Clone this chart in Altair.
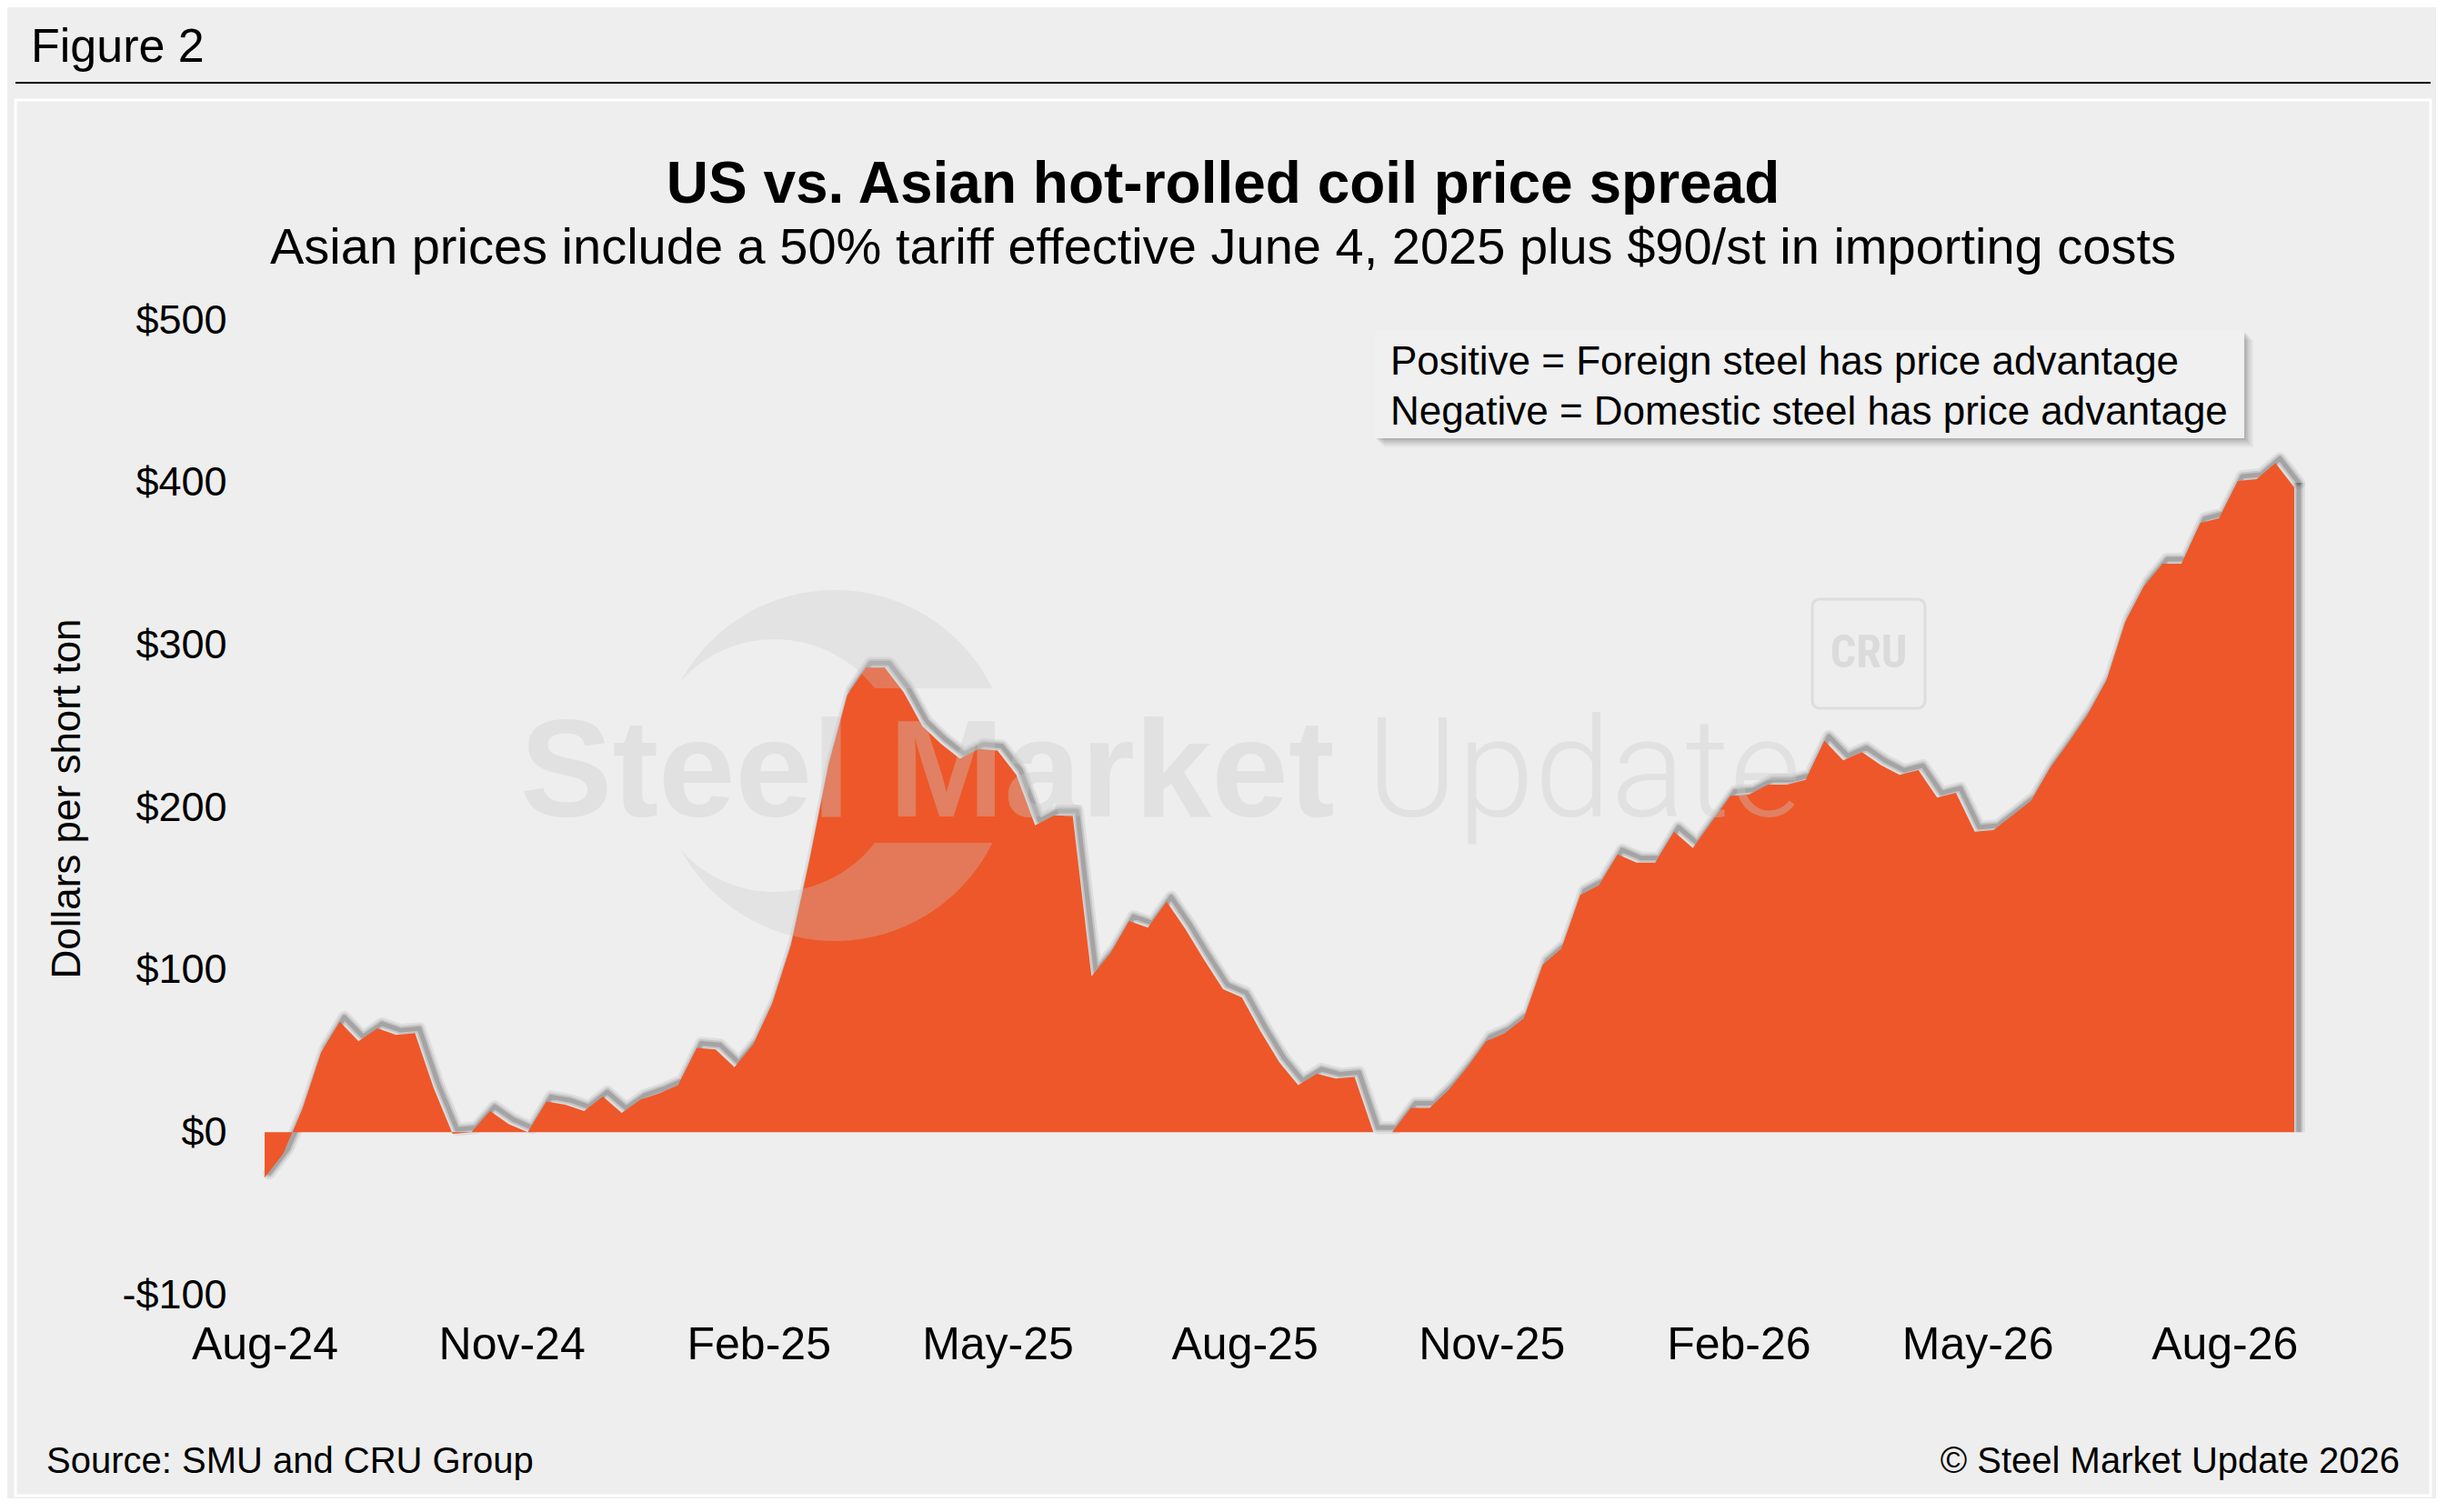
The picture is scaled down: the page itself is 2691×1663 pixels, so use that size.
import altair as alt
import pandas as pd

# ---------------- data ----------------
start_date = "2024-08-01"
spread = [-28, -13, 14, 49, 68, 56, 64, 60, 61, 27,
          -1, 0, 13, 5, 0, 19, 17, 13, 22, 12,
          20, 24, 29, 52, 51, 40, 54, 79, 115, 168,
          226, 269, 286, 286, 271, 250, 239, 230, 236, 235,
          220, 189, 195, 195, 96, 110, 130, 126, 142, 125,
          106, 88, 83, 62, 43, 29, 36, 33, 34, 0,
          0, 15, 15, 26, 40, 56, 61, 70, 103, 113,
          146, 152, 171, 166, 166, 185, 175, 191, 207, 208,
          214, 214, 217, 241, 229, 234, 226, 220, 223, 206,
          209, 185, 186, 195, 204, 224, 240, 257, 278, 314,
          336, 350, 350, 375, 378, 401, 402, 412, 397]
x_tick_months = [(2024, 8), (2024, 11), (2025, 2), (2025, 5), (2025, 8),
                 (2025, 11), (2026, 2), (2026, 5), (2026, 8)]
y_ticks = [-100, 0, 100, 200, 300, 400, 500]

title_text = "US vs. Asian hot-rolled coil price spread"
subtitle_text = "Asian prices include a 50% tariff effective June 4, 2025 plus $90/st in importing costs"
legend_lines = ["Positive = Foreign steel has price advantage",
                "Negative = Domestic steel has price advantage"]

dates = pd.date_range(start_date, periods=len(spread), freq="7D")
df = pd.DataFrame({
    "date": dates.strftime("%Y-%m-%dT00:00:00"),
    "value": spread,
})
# shadow copy (slightly up/right, like the drop shadow of the original)
df["date_s"] = (dates + pd.Timedelta(hours=40)).strftime("%Y-%m-%dT%H:00:00")
df["value_s"] = df["value"] + 2.8

FONT = "Liberation Sans, Helvetica, Arial, sans-serif"
AREA = "#EE5729"
W, H = 2232, 1072

def dt(ts):
    return alt.DateTime(year=int(ts.year), month=int(ts.month), date=int(ts.day))

x_scale = alt.Scale(domain=[dt(dates[0]), dt(dates[-1])])
y_scale = alt.Scale(domain=[y_ticks[0], y_ticks[-1]], nice=False)

x_axis = alt.Axis(values=[alt.DateTime(year=yy, month=mm, date=1)
                          for yy, mm in x_tick_months],
                  format="%b-%y", labelFontSize=50, labelPadding=30,
                  labelFlush=False, labelOverlap=False, title=None, zindex=1)
y_axis = alt.Axis(values=y_ticks,
                  labelExpr="datum.value < 0 ? '-$' + abs(datum.value) : '$' + datum.value",
                  labelFontSize=45, labelPadding=42,
                  title="Dollars per short ton", titleFontSize=44,
                  titleFontWeight="normal", titleAngle=270,
                  titleX=-217, titleY=526, titleAlign="center",
                  titleBaseline="middle", zindex=1)

one = pd.DataFrame({"k": [0]})
b = alt.Chart(one)

def txt(text, x, y, size, align="left", weight="normal", color="black",
        font=FONT, baseline="alphabetic", opacity=1.0):
    return b.mark_text(text=text, align=align, baseline=baseline, fontSize=size,
                       fontWeight=weight, font=font, color=color,
                       opacity=opacity).encode(x=alt.value(x), y=alt.value(y))

# panel frame (white border only, background comes from the chart background)
panel = b.mark_rect(fillOpacity=0, stroke="#ffffff", strokeWidth=3).encode(
    x=alt.value(-274), x2=alt.value(2382), y=alt.value(-242), y2=alt.value(1293))
header_rule = b.mark_rule(color="black", strokeWidth=2).encode(
    x=alt.value(-274), x2=alt.value(2382), y=alt.value(-261))
fig_label = txt("Figure 2", -257, -284, 52)
title = txt(title_text, 1054, -129, 64, align="center", weight="bold")
subtitle = txt(subtitle_text, 1054, -62, 56, align="center")
source = txt("Source: SMU and CRU Group", -240, 1268, 40)
copyright_ = txt("\u00a9 Steel Market Update 2026", 2348, 1268, 40, align="right")

# legend box with soft shadow
legend_layers = []
for off, op in [(10, 0.05), (8, 0.07), (6, 0.09), (4, 0.11), (2, 0.12)]:
    legend_layers.append(b.mark_rect(fill="#555555", opacity=op).encode(
        x=alt.value(1221 + off), x2=alt.value(2177 + off),
        y=alt.value(12 + off), y2=alt.value(130 + off)))
legend_layers.append(b.mark_rect(fill="#f0f0f0").encode(
    x=alt.value(1221), x2=alt.value(2177), y=alt.value(12), y2=alt.value(130)))
legend_layers.append(txt(legend_lines[0], 1238, 60, 44))
legend_layers.append(txt(legend_lines[1], 1238, 115, 44))

# area shadow
shadow_layers = []
for w, op in [(14, 0.08), (9, 0.13), (5, 0.2)]:
    shadow_layers.append(alt.Chart(df).mark_line(
        color="#222222", strokeWidth=w, opacity=op, strokeJoin="round",
        strokeCap="round").encode(
        x=alt.X("date_s:T", scale=x_scale, axis=x_axis),
        y=alt.Y("value_s:Q", scale=y_scale, axis=y_axis)))
    shadow_layers.append(alt.Chart(df.tail(1)).mark_rule(
        color="#222222", strokeWidth=w, opacity=op).encode(
        x=alt.X("date_s:T", scale=x_scale, axis=x_axis),
        y=alt.Y("value_s:Q", scale=y_scale, axis=y_axis),
        y2=alt.datum(0)))

area = alt.Chart(df).mark_area(color=AREA, interpolate="linear").encode(
    x=alt.X("date:T", scale=x_scale, axis=x_axis),
    y=alt.Y("value:Q", scale=y_scale, axis=y_axis),
    y2=alt.datum(0),
)

# watermark
WM = "#cacaca"
crescent = ("M -0.875 -0.484 A 1 1 0 0 1 0.898 -0.44 L 0.228 -0.44 "
            "A 0.72 0.72 0 0 0 -0.875 -0.484 Z "
            "M -0.875 0.484 A 1 1 0 0 0 0.898 0.44 L 0.228 0.44 "
            "A 0.72 0.72 0 0 1 -0.875 0.484 Z")
logo = b.mark_point(shape=crescent, size=148996, filled=True, fill=WM,
                    opacity=0.3, strokeWidth=0).encode(
    x=alt.value(627), y=alt.value(490))
wm1 = txt("Steel Market", 281, 546, 152, weight="bold", color=WM, opacity=0.355)
wm2 = txt("Update", 1212, 546, 152, weight=300, color=WM, opacity=0.355,
          font="Roboto, Liberation Sans, sans-serif")
cru_box = b.mark_rect(fillOpacity=0, stroke=WM, strokeWidth=3, cornerRadius=8,
                      opacity=0.45).encode(
    x=alt.value(1702), x2=alt.value(1826), y=alt.value(307), y2=alt.value(427))
cru_txt = txt("CRU", 1764, 367, 50, align="center", weight="bold", color=WM,
              font="Liberation Sans Narrow, Roboto Condensed, DejaVu Sans Condensed, sans-serif",
              baseline="middle", opacity=0.5)

chart = alt.layer(
    *shadow_layers, panel, header_rule, fig_label, title, subtitle, source,
    copyright_, *legend_layers, area, logo, wm1, wm2, cru_box, cru_txt,
).properties(
    width=W, height=H,
    padding={"left": 283, "top": 344, "right": 156, "bottom": 224},
    autosize=alt.AutoSizeParams(type="none"),
    background="#eeeeee",
).configure_view(stroke=None).configure_axis(
    grid=False, domain=False, ticks=False, zindex=1,
    labelFont=FONT, labelColor="black", titleFont=FONT, titleColor="black",
)

chart.save("out.html", embed_options={"renderer": "svg", "actions": False})
